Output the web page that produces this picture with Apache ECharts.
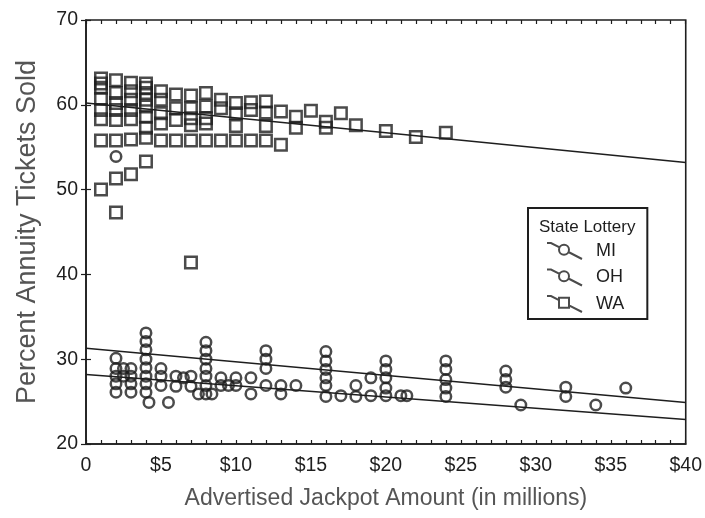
<!DOCTYPE html>
<html>
<head>
<meta charset="utf-8">
<script src="https://cdn.jsdelivr.net/npm/echarts@6/dist/echarts.min.js"></script>
<style>
  html, body { margin: 0; padding: 0; background: #fff; }
  #chart { width: 705px; height: 518px; }
</style>
</head>
<body>
<div id="chart"></div>
<script>
// Jackpot size ($ millions) vs. percent of tickets sold with the annuity option
const xTickLabels = ['0', '$5', '$10', '$15', '$20', '$25', '$30', '$35', '$40'];
const yTickLabels = ['20', '30', '40', '50', '60', '70'];
const legendNames = ['MI', 'OH', 'WA'];

const waPoints = [
  [1, 63.1], [1, 62.5], [1, 62.0], [1, 60.7], [1, 59.4], [1, 58.3], [1, 55.8], [1, 50.0],
  [2, 62.9], [2, 61.4], [2, 60.2], [2, 59.4], [2, 58.2], [2, 55.8], [2, 51.3], [2, 47.3],
  [3, 62.6], [3, 61.6], [3, 60.6], [3, 59.4], [3, 58.3], [3, 55.9], [3, 51.8],
  [4, 62.5], [4, 62.0], [4, 61.4], [4, 60.6], [4, 59.8], [4, 58.6], [4, 57.3], [4, 56.1], [4, 53.3],
  [5, 61.6], [5, 60.6], [5, 59.0], [5, 57.8], [5, 55.8],
  [6, 61.2], [6, 59.6], [6, 58.2], [6, 55.8],
  [7, 61.1], [7, 59.6], [7, 58.4], [7, 57.6], [7, 55.8], [7, 41.4],
  [8, 61.4], [8, 59.8], [8, 58.4], [8, 57.8], [8, 55.8],
  [9, 60.6], [9, 59.6], [9, 55.8],
  [10, 60.2], [10, 59.0], [10, 57.5], [10, 55.8],
  [11, 60.3], [11, 59.4], [11, 55.8],
  [12, 60.4], [12, 59.1], [12, 57.5], [12, 55.8],
  [13, 59.2], [13, 55.3],
  [14, 58.6], [14, 57.3],
  [15, 59.3],
  [16, 58.0], [16, 57.3],
  [17, 59.0],
  [18, 57.6],
  [20, 56.9],
  [22, 56.2],
  [24, 56.7]
];

const miPoints = [
  [4, 33.1], [4, 32.1], [4, 31.1], [4, 30.0], [4, 29.0], [4, 28.0], [4, 27.1], [4, 26.1],
  [8, 32.0], [8, 31.0], [8, 30.0], [8, 28.9], [8, 28.0], [8, 26.9], [8, 25.9],
  [12, 31.0], [12, 30.0], [12, 28.9], [12, 26.9],
  [16, 30.9], [16, 29.8], [16, 28.8], [16, 27.8], [16, 26.9], [16, 25.6],
  [20, 29.8], [20, 28.8], [20, 27.8], [20, 26.6], [20, 25.7],
  [24, 29.8], [24, 28.8], [24, 27.6], [24, 26.6], [24, 25.6],
  [28, 28.6], [28, 27.6], [28, 26.7],
  [32, 26.7], [32, 25.6],
  [36, 26.6]
];

const ohPoints = [
  [2, 53.9], [2, 30.1], [2, 28.9], [2, 28.0], [2, 27.1], [2, 26.1],
  [2.5, 28.9], [2.5, 28.0],
  [3, 28.9], [3, 28.0], [3, 27.1], [3, 26.1],
  [4.2, 24.9],
  [5, 28.9], [5, 28.0], [5, 26.9],
  [5.5, 24.9],
  [6, 28.0], [6, 26.8],
  [6.5, 27.8],
  [7, 28.0], [7, 26.8],
  [7.5, 25.9],
  [8.4, 25.9],
  [9, 27.8], [9, 26.9],
  [9.5, 26.9],
  [10, 27.8], [10, 26.9],
  [11, 27.8], [11, 25.9],
  [13, 26.9], [13, 25.9],
  [14, 26.9],
  [17, 25.7],
  [18, 26.9], [18, 25.6],
  [19, 27.8], [19, 25.7],
  [21, 25.7], [21.4, 25.7],
  [29, 24.6],
  [34, 24.6]
];

// Least-squares fit lines, end points at $0 and $40
const waFit = [[0, 60.2], [40, 53.2]];
const miFit = [[0, 31.3], [40, 24.9]];
const ohFit = [[0, 28.2], [40, 22.9]];

const INK = '#1e1e1e';
const FONT = "'Liberation Sans', Arial, sans-serif";

// legend glyphs: a slanted connector running through the marker
const circleIcon = 'path://M0,0 L4,0 L12.56,4.4 M21.44,9 L35,16 M22,6.7 A5,5 0 1 1 12,6.7 A5,5 0 1 1 22,6.7 Z';
const squareIcon = 'path://M0,0 L4,0 L12,4.13 M22,9.29 L35,16 M12,1.7 L22,1.7 L22,11.7 L12,11.7 Z';

const hollow = { color: 'rgba(0,0,0,0)', borderColor: INK, borderWidth: 2.5 };
const iconStyle = { color: 'rgba(0,0,0,0)', borderColor: INK, borderWidth: 2 };

function fitSeries(name, data) {
  return {
    name: name, type: 'line', data: data, symbol: 'none', silent: true,
    lineStyle: { color: INK, width: 1.5 }, z: 1
  };
}

const tickStyle = { color: INK, width: 1.2 };

const chart = echarts.init(document.getElementById('chart'), null, { renderer: 'canvas' });
chart.setOption({
  backgroundColor: '#fff',
  animation: false,
  textStyle: { fontFamily: FONT },
  grid: {
    left: 86, right: 19, top: 20, bottom: 74,
    show: true, borderColor: INK, borderWidth: 1.6, backgroundColor: 'transparent'
  },
  title: {
    text: 'State Lottery', left: 534, top: 214,
    textStyle: { fontFamily: FONT, fontSize: 17, fontWeight: 'normal', color: INK }
  },
  legend: {
    orient: 'vertical', left: 528, top: 208,
    borderColor: INK, borderWidth: 2,
    padding: [34, 23, 6, 18],
    itemGap: 8.5, itemWidth: 35, itemHeight: 17,
    textStyle: { fontFamily: FONT, fontSize: 18, color: INK, padding: [0, 0, 0, 9] },
    data: [
      { name: legendNames[0], icon: circleIcon, itemStyle: iconStyle },
      { name: legendNames[1], icon: circleIcon, itemStyle: iconStyle },
      { name: legendNames[2], icon: squareIcon, itemStyle: iconStyle }
    ]
  },
  xAxis: [{
    type: 'value', min: 0, max: 40, interval: 5,
    name: 'Advertised Jackpot Amount (in millions)',
    nameLocation: 'middle', nameGap: 43,
    nameTextStyle: { fontFamily: FONT, fontSize: 23, color: '#555' },
    axisLine: { show: true, lineStyle: { color: INK, width: 1.6 } },
    axisTick: { show: true, inside: true, length: 4, lineStyle: tickStyle },
    minorTick: { show: true, splitNumber: 5, length: 4, lineStyle: tickStyle },
    splitLine: { show: false },
    axisLabel: {
      margin: 12, fontSize: 19.5, color: INK, fontFamily: FONT,
      formatter: function (v) { return xTickLabels[Math.round(v / 5)]; }
    }
  }, {
    type: 'value', min: 0, max: 40, interval: 5, position: 'top',
    axisLine: { show: false },
    axisTick: { show: true, inside: true, length: 4, lineStyle: tickStyle },
    minorTick: { show: true, splitNumber: 5, length: 4, lineStyle: tickStyle },
    splitLine: { show: false },
    axisLabel: { show: false }
  }],
  yAxis: [{
    type: 'value', min: 20, max: 70, interval: 10,
    name: 'Percent Annuity Tickets Sold',
    nameLocation: 'middle', nameGap: 45,
    nameTextStyle: { fontFamily: FONT, fontSize: 27, color: '#555' },
    axisLine: { show: true, lineStyle: { color: INK, width: 1.6 } },
    axisTick: { show: true, inside: true, length: 5, lineStyle: tickStyle },
    splitLine: { show: false },
    axisLabel: {
      margin: 8, fontSize: 19.5, color: INK, fontFamily: FONT,
      formatter: function (v) { return yTickLabels[Math.round((v - 20) / 10)]; }
    }
  }, {
    type: 'value', min: 20, max: 70, interval: 10, position: 'right',
    axisLine: { show: false },
    axisTick: { show: true, inside: true, length: 5, lineStyle: tickStyle },
    splitLine: { show: false },
    axisLabel: { show: false }
  }],
  series: [
    { name: 'MI', type: 'scatter', data: miPoints, symbol: 'circle', symbolSize: 10.5, itemStyle: hollow, z: 3 },
    { name: 'OH', type: 'scatter', data: ohPoints, symbol: 'circle', symbolSize: 10.5, itemStyle: hollow, z: 3 },
    { name: 'WA', type: 'scatter', data: waPoints, symbol: 'rect', symbolSize: 11.5, itemStyle: hollow, z: 3 },
    fitSeries('WA fit', waFit),
    fitSeries('MI fit', miFit),
    fitSeries('OH fit', ohFit)
  ]
});
</script>
</body>
</html>
